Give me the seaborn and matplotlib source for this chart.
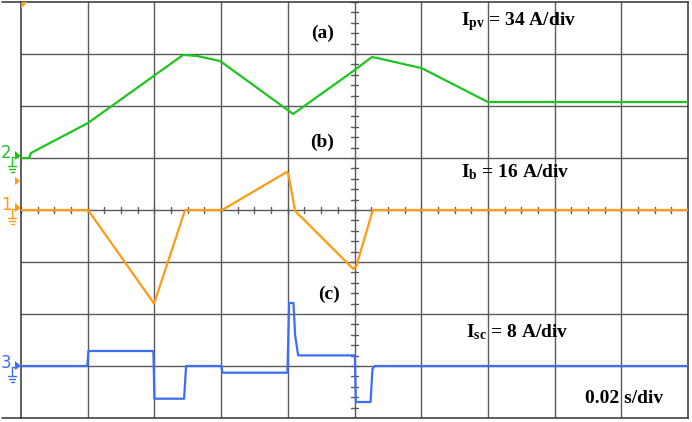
import numpy as np
import pandas as pd
import matplotlib
matplotlib.use("Agg")
import matplotlib.pyplot as plt
import seaborn as sns
from matplotlib.lines import Line2D
from matplotlib.patches import Polygon

# ---------------- data (time in ms, current in A) ----------------
t_pv = [0, 2.4, 3.0, 20.1, 48.6, 52.8, 59.7, 81.6, 99.6, 105.2, 107.0, 120.2, 140.0, 200]
i_pv = [0, 0, 3.3, 22.9, 67.4, 66.7, 63.4, 28.8, 56.8, 66.0, 65.3, 58.7, 36.6, 36.6]

t_b = [0, 20.1, 39.9, 49.2, 60.3, 79.7, 80.2, 82.2, 99.6, 100.5, 105.5, 200]
i_b = [0, 0, -28.8, 0, 0, 11.7, 10.9, -0.3, -18.1, -17.4, 0, 0]

t_sc = [0, 19.9, 20.2, 39.7, 40.0, 48.9, 49.5, 60.1, 60.4, 79.9, 80.4, 81.7,
        82.2, 83.1, 100.1, 100.4, 104.8, 105.4, 106.1, 200]
i_sc = [0, 0, 2.31, 2.31, -5.03, -5.03, 0, 0, -1.03, -1.03, 9.69, 9.69,
        4.71, 1.63, 1.63, -5.54, -5.54, -0.42, 0, 0]

scale_pv, scale_b, scale_sc = 34, 16, 8      # A/div
offset_pv, offset_b, offset_sc = 1, 0, -3     # channel ground level (div)
labels = ["(a)", "(b)", "(c)"]

GREEN = "#1fc41f"
ORANGE = "#ff9a14"
BLUE = "#3d6ef5"
GRID = "#5a5a5a"

sns.set_style("white")
plt.rcParams["mathtext.fontset"] = "custom"
plt.rcParams["mathtext.rm"] = "Liberation Serif:bold"
plt.rcParams["mathtext.bf"] = "Liberation Serif:bold"
plt.rcParams["mathtext.it"] = "Liberation Serif:bold"

W, H = 692, 422
fig = plt.figure(figsize=(W / 100, H / 100), dpi=100)
ax = fig.add_axes([21 / W, 4 / H, 667 / W, 416 / H])
ax.set_xlim(0, 200)
ax.set_ylim(-4, 4)

# grid
for x in range(20, 200, 20):
    ax.axvline(x, color=GRID, lw=1.0, zorder=1)
for y in range(-3, 4):
    ax.axhline(y, color=GRID, lw=1.0, zorder=1)
for sp in ax.spines.values():
    sp.set_color("#333333")
    sp.set_linewidth(1.1)

# minor ticks on center lines
for k in np.arange(0, 200.01, 5):
    ax.plot([k, k], [-0.065, 0.065], color=GRID, lw=1.0, zorder=1)
for k in np.arange(-4, 4.01, 0.2):
    ax.plot([99.0, 101.0], [k, k], color=GRID, lw=1.0, zorder=1)

ax.set_xticks([])
ax.set_yticks([])

# traces
df_pv = pd.DataFrame({"t": t_pv, "v": np.array(i_pv) / scale_pv + offset_pv})
df_b = pd.DataFrame({"t": t_b, "v": np.array(i_b) / scale_b + offset_b})
df_sc = pd.DataFrame({"t": t_sc, "v": np.array(i_sc) / scale_sc + offset_sc})
sns.lineplot(data=df_pv, x="t", y="v", sort=False, estimator=None, color=GREEN, lw=1.6, ax=ax, zorder=3)
sns.lineplot(data=df_b, x="t", y="v", sort=False, estimator=None, color=ORANGE, lw=1.6, ax=ax, zorder=3)
sns.lineplot(data=df_sc, x="t", y="v", sort=False, estimator=None, color=BLUE, lw=1.6, ax=ax, zorder=3)
ax.set_xlabel("")
ax.set_ylabel("")

# annotations
tf = dict(family="Liberation Serif", weight="bold", fontsize=14, color="black", zorder=5)
ax.text(90.3, 3.40, labels[0], ha="center", va="center", **tf)
ax.text(90.3, 1.31, labels[1], ha="center", va="center", **tf)
ax.text(92.4, -1.63, labels[2], ha="center", va="center", **tf)
ax.text(132.0, 3.62, r"$\mathbf{I_{pv}}$ = 34 A/div", ha="left", va="center", **tf)
ax.text(132.0, 0.73, r"$\mathbf{I_{b}}$ = 16 A/div", ha="left", va="center", **tf)
ax.text(133.5, -2.35, r"$\mathbf{I_{sc}}$ = 8 A/div", ha="left", va="center", **tf)
ax.text(169.1, -3.62, "0.02 s/div", ha="left", va="center", **tf)

# ---------------- left-side channel markers (figure pixels) ----------------
def P(x, y):
    return (x / W, 1 - y / H)

def fline(xs, ys, color, lw=1.0):
    fig.add_artist(Line2D([x / W for x in xs], [1 - y / H for y in ys], color=color, lw=lw))

def ftri(pts, color):
    fig.add_artist(Polygon([P(*p) for p in pts], closed=True, color=color, lw=0))

def ground(x0, y0, color):
    fline([x0 - 3, x0 + 1], [y0, y0], color)
    fline([x0 - 3, x0 - 3], [y0, y0 + 9], color)
    fline([x0 - 7, x0 + 1], [y0 + 9, y0 + 9], color)
    fline([x0 - 6, x0], [y0 + 12, y0 + 12], color)
    fline([x0 - 4.5, x0 - 1.5], [y0 + 15, y0 + 15], color)

def channel(num, ymid, color):
    fig.text(*P(6, ymid - 3), num, color=color, fontsize=12, ha="center", va="center", family="DejaVu Sans")
    ftri([(15, ymid - 5), (15, ymid + 4), (21, ymid)], color)
    ground(15, ymid + 1, color)

channel("2", 156, GREEN)
channel("1", 208, ORANGE)
channel("3", 366, BLUE)
ftri([(15, 177), (15, 185), (20, 181)], ORANGE)
ftri([(21, 2), (27, 2), (21, 9)], ORANGE)

# extended outer frame lines
fline([2, 21], [2, 2], "#333333", lw=1.1)
fline([2, 21], [418, 418], "#333333", lw=1.1)

fig.savefig("out.png", dpi=100)
